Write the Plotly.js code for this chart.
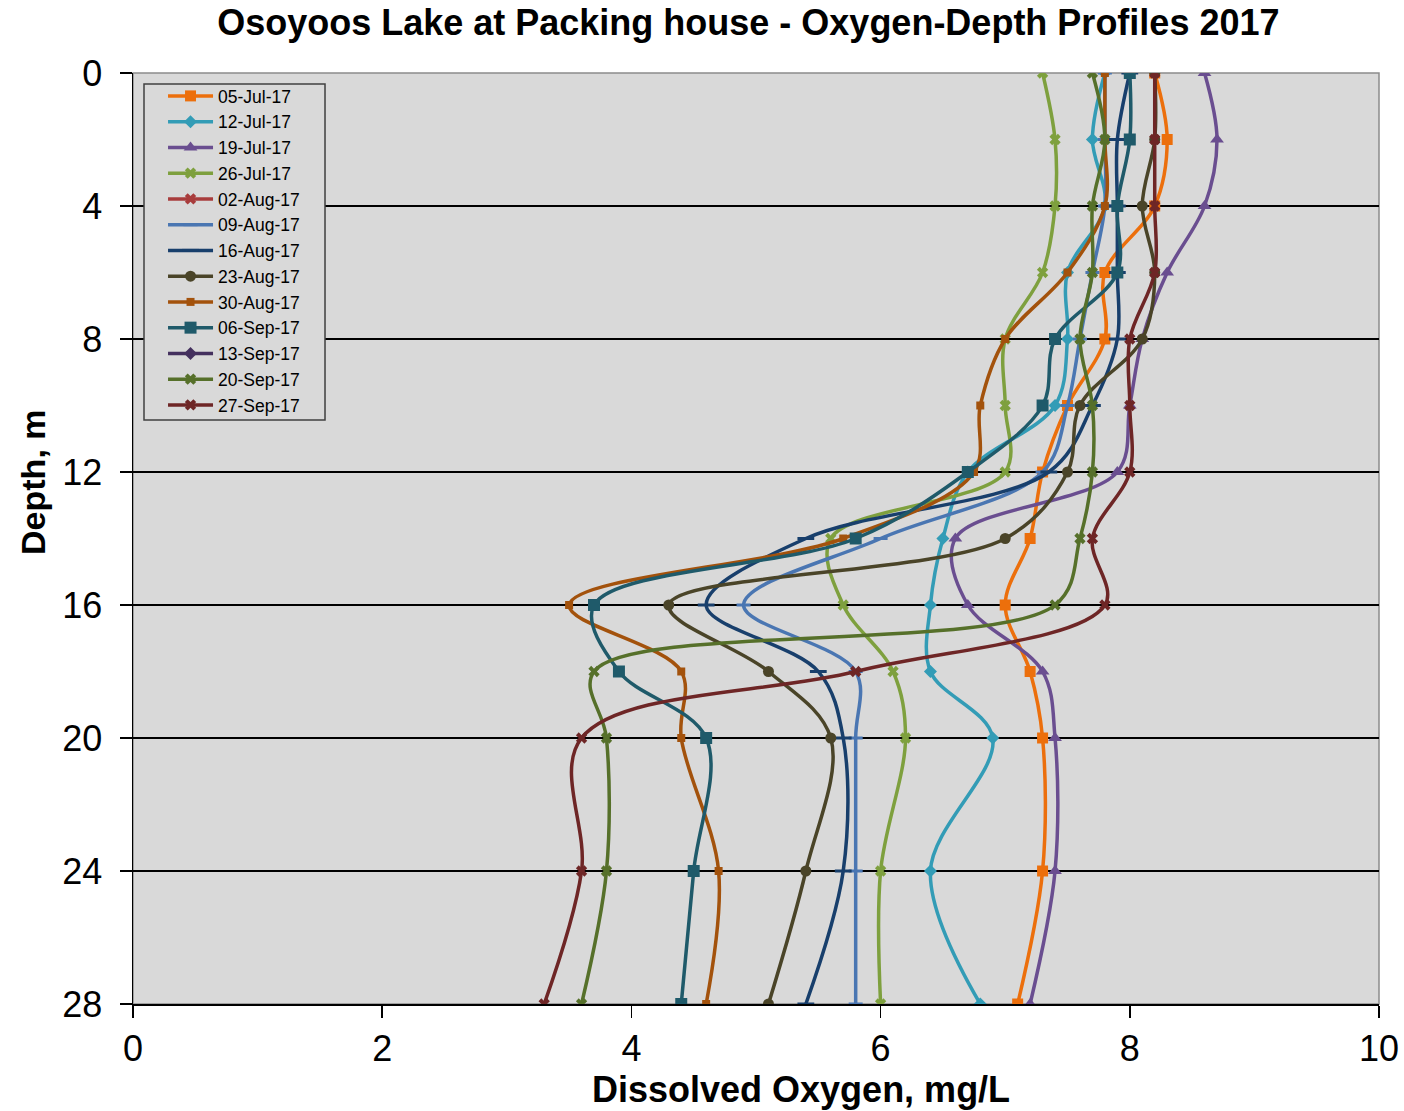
<!DOCTYPE html>
<html>
<head>
<meta charset="utf-8">
<script src="https://cdn.plot.ly/plotly-3.0.1.min.js"></script>
<style>
  html, body { margin: 0; padding: 0; background: #ffffff; }
  #chart { width: 1404px; height: 1111px; }
</style>
</head>
<body>
<div id="chart"></div>
<script>
// Depth (m) at which each profile was sampled
const depth = [0, 2, 4, 6, 8, 10, 12, 14, 16, 18, 20, 24, 28];

// Series labels
const seriesNames = ["05-Jul-17", "12-Jul-17", "19-Jul-17", "26-Jul-17", "02-Aug-17", "09-Aug-17",
  "16-Aug-17", "23-Aug-17", "30-Aug-17", "06-Sep-17", "13-Sep-17", "20-Sep-17", "27-Sep-17"];

// Dissolved oxygen (mg/L) per sampling date
// (02-Aug-17 and 13-Sep-17 appear only in the legend; no points are drawn for them)
const do_05Jul = [8.2, 8.3, 8.2, 7.8, 7.8, 7.5, 7.3, 7.2, 7.0, 7.2, 7.3, 7.3, 7.1];
const do_12Jul = [7.8, 7.7, 7.8, 7.5, 7.5, 7.4, 6.7, 6.5, 6.4, 6.4, 6.9, 6.4, 6.8];
const do_19Jul = [8.6, 8.7, 8.6, 8.3, 8.1, 8.0, 7.9, 6.6, 6.7, 7.3, 7.4, 7.4, 7.2];
const do_26Jul = [7.3, 7.4, 7.4, 7.3, 7.0, 7.0, 7.0, 5.6, 5.7, 6.1, 6.2, 6.0, 6.0];
const do_02Aug = [];
const do_09Aug = [7.8, 7.8, 7.8, 7.7, 7.6, 7.5, 7.3, 6.0, 4.9, 5.8, 5.8, 5.8, 5.8];
const do_16Aug = [8.0, 7.9, 7.9, 7.9, 7.9, 7.7, 7.35, 5.4, 4.6, 5.5, 5.7, 5.7, 5.4];
const do_23Aug = [8.2, 8.2, 8.1, 8.2, 8.1, 7.6, 7.5, 7.0, 4.3, 5.1, 5.6, 5.4, 5.1];
const do_30Aug = [7.8, 7.8, 7.8, 7.5, 7.0, 6.8, 6.75, 5.7, 3.5, 4.4, 4.4, 4.7, 4.6];
const do_06Sep = [8.0, 8.0, 7.9, 7.9, 7.4, 7.3, 6.7, 5.8, 3.7, 3.9, 4.6, 4.5, 4.4];
const do_13Sep = [];
const do_20Sep = [7.7, 7.8, 7.7, 7.7, 7.6, 7.7, 7.7, 7.6, 7.4, 3.7, 3.8, 3.8, 3.6];
const do_27Sep = [8.2, 8.2, 8.2, 8.2, 8.0, 8.0, 8.0, 7.7, 7.8, 5.8, 3.6, 3.6, 3.3];

const seriesValues = [do_05Jul, do_12Jul, do_19Jul, do_26Jul, do_02Aug, do_09Aug, do_16Aug,
  do_23Aug, do_30Aug, do_06Sep, do_13Sep, do_20Sep, do_27Sep];

// Styles
const colors = ["#EC6F0C", "#339CB6", "#6A4E90", "#7EA03E", "#A83C3C", "#4A76B2", "#183F6C",
  "#4A4428", "#A3520C", "#1F5A6A", "#44305E", "#56702A", "#6E2626"];
const symbols = ["square", "diamond", "triangle-up", "x", "x", "line-ew", "line-ew",
  "circle", "square", "square", "diamond", "x", "x"];
const sizes = [11, 10, 12, 10, 10, 10, 12, 11, 8, 12, 10, 10, 10];

const FONT = "Liberation Sans, Arial, Helvetica, sans-serif";

const traces = seriesNames.map((name, i) => {
  const vals = seriesValues[i];
  const hasData = vals.length > 0;
  const isDash = symbols[i] === "line-ew";
  return {
    type: "scatter",
    mode: "lines+markers",
    name: name,
    // series with no data keep a single empty (null) point so they still appear in the legend
    x: hasData ? vals : [null],
    y: hasData ? depth.slice(0, vals.length) : [null],
    line: { color: colors[i], width: 3.5, shape: "spline", smoothing: 1 },
    marker: {
      symbol: symbols[i],
      size: sizes[i],
      color: colors[i],
      line: { color: colors[i], width: isDash ? 3 : 0 }
    }
  };
});

const layout = {
  width: 1404,
  height: 1111,
  paper_bgcolor: "#ffffff",
  plot_bgcolor: "#D9D9D9",
  margin: { l: 133, r: 25, t: 73, b: 107 },
  showlegend: true,
  title: {
    text: "<b>Osoyoos Lake at Packing house - Oxygen-Depth Profiles 2017</b>",
    font: { family: FONT, size: 36, color: "#000000" },
    x: 0.533, xanchor: "center",
    y: 0.98, yanchor: "middle"
  },
  xaxis: {
    range: [0, 10],
    tickvals: [0, 2, 4, 6, 8, 10],
    ticktext: ["0", "2", "4", "6", "8", "10"],
    ticks: "outside", ticklen: 12, tickwidth: 1.5, tickcolor: "#000000",
    ticklabelstandoff: 0,
    showgrid: false, zeroline: false,
    showline: true, linecolor: "#000000", linewidth: 1.5,
    tickfont: { family: FONT, size: 36, color: "#000000" }
  },
  yaxis: {
    range: [28, 0],
    tickvals: [0, 4, 8, 12, 16, 20, 24, 28],
    ticktext: ["0", "4", "8", "12", "16", "20", "24", "28"],
    ticks: "outside", ticklen: 12, tickwidth: 1.5, tickcolor: "#000000",
    ticklabelstandoff: 10,
    showgrid: true, gridcolor: "#000000", gridwidth: 1.2,
    zeroline: false,
    showline: true, linecolor: "#000000", linewidth: 1.5,
    tickfont: { family: FONT, size: 36, color: "#000000" }
  },
  legend: {
    x: 0.0241, y: 0.9946, xanchor: "left", yanchor: "top",
    bgcolor: "rgba(0,0,0,0)",
    borderwidth: 0,
    font: { family: FONT, size: 17.5, color: "#000000" },
    itemwidth: 45,
    tracegroupgap: 0
  },
  annotations: [
    {
      text: "<b>Dissolved Oxygen, mg/L</b>",
      xref: "paper", yref: "paper",
      x: 0.536, y: -0.0913, xanchor: "center", yanchor: "middle",
      showarrow: false,
      font: { family: FONT, size: 36, color: "#000000" }
    },
    {
      text: "<b>Depth, m</b>",
      xref: "paper", yref: "paper",
      x: -0.0803, y: 0.5607, xanchor: "center", yanchor: "middle",
      textangle: -90,
      showarrow: false,
      font: { family: FONT, size: 34, color: "#000000" }
    }
  ],
  shapes: [
    {
      type: "rect", xref: "paper", yref: "paper",
      x0: 0, x1: 1, y0: 0, y1: 1,
      line: { color: "#8C8C8C", width: 1.5 },
      fillcolor: "rgba(0,0,0,0)",
      layer: "below"
    },
    {
      // legend frame (Excel-style box with extra left padding)
      type: "rect", xref: "paper", yref: "paper",
      x0: 0.00883, x1: 0.1541, y0: 0.6273, y1: 0.9882,
      line: { color: "#404040", width: 1.5 },
      fillcolor: "#D9D9D9",
      layer: "above"
    }
  ]
};

Plotly.newPlot("chart", traces, layout, { displayModeBar: false, staticPlot: true });
</script>
</body>
</html>
